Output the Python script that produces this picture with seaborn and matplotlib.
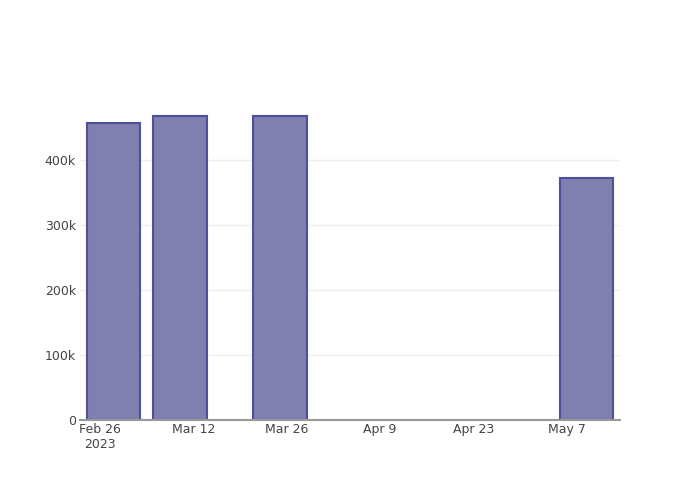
import numpy as np
import pandas as pd
import matplotlib
matplotlib.use("Agg")
import matplotlib.pyplot as plt
import matplotlib.dates as mdates
import matplotlib.ticker as mticker
import seaborn as sns

# Data
dates = ["2023-02-28", "2023-03-10", "2023-03-25", "2023-05-10"]
values = [457000, 468000, 468000, 372000]
tick_dates = ["2023-02-26", "2023-03-12", "2023-03-26", "2023-04-09", "2023-04-23", "2023-05-07"]
tick_labels = ["Feb 26\n2023", "Mar 12", "Mar 26", "Apr 9", "Apr 23", "May 7"]

sns.set_theme(style="white")
plt.rcParams['font.family'] = ['DejaVu Sans']

df = pd.DataFrame({"date": pd.to_datetime(dates), "value": values})
df["x"] = mdates.date2num(df["date"])

fig = plt.figure(figsize=(7, 5), dpi=100)
ax = fig.add_axes([80 / 700, 80 / 500, 540 / 700, 320 / 500])

sns.barplot(data=df, x="x", y="value", native_scale=True, width=0.8,
            color="#7f7fb0", saturation=1, edgecolor="#50509a", linewidth=1.5, ax=ax)

ax.set_xlim(mdates.date2num(pd.Timestamp("2023-02-23")), mdates.date2num(pd.Timestamp("2023-05-15")))
ax.set_ylim(0, max(values) * 1.052)

ax.set_xticks(mdates.date2num(pd.to_datetime(tick_dates)))
ax.set_xticklabels(tick_labels)
ax.set_yticks([0, 100000, 200000, 300000, 400000])
ax.yaxis.set_major_formatter(mticker.FuncFormatter(lambda v, p: "0" if v == 0 else f"{int(v / 1000)}k"))

ax.grid(axis="y", color="#eeeeee", linewidth=1)
ax.set_axisbelow(True)
for s in ["top", "right", "left"]:
    ax.spines[s].set_visible(False)
ax.spines["bottom"].set_color("#999999")
ax.spines["bottom"].set_linewidth(1.5)
ax.tick_params(axis="both", length=0, labelsize=9, colors="#444444")
ax.tick_params(axis="x", pad=2)
ax.tick_params(axis="y", pad=3)
ax.set_xlabel("")
ax.set_ylabel("")

fig.savefig("out.png", dpi=100)
